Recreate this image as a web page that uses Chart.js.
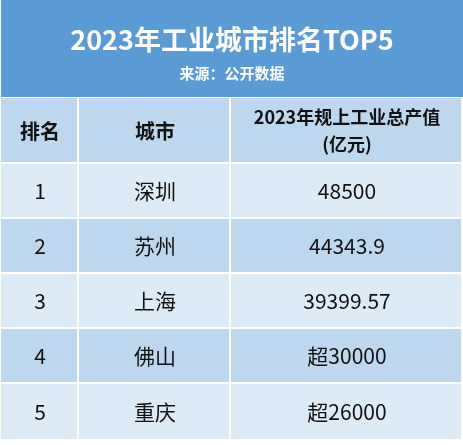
<!DOCTYPE html><html><head><meta charset="utf-8">
<script src="https://cdn.jsdelivr.net/npm/chart.js@4"></script>
<style>html,body{margin:0;padding:0;background:#fff}#w{width:463px;height:445px}</style></head><body><div id="w"><canvas id="c"></canvas></div>
<script>
const title = "2023年工业城市排名TOP5";
const subtitle = "来源：公开数据";
const headers = ["排名", "城市", "2023年规上工业总产值\n(亿元)"];
const ranks = ["1","2","3","4","5"];
const cities = ["深圳","苏州","上海","佛山","重庆"];
const values = ["48500","44343.9","39399.57","超30000","超26000"];

const F = '"Noto Sans CJK SC","Microsoft YaHei",sans-serif';
const tablePlugin = {
  id:'table',
  afterDraw(chart){
    const c = chart.ctx, xs = chart.scales.x, ys = chart.scales.y;
    const X = v=>xs.getPixelForValue(v), Y = v=>ys.getPixelForValue(v);
    const colB = [1, 79, 231, 463];
    const rowB = [98, 164, 219, 274, 329, 384, 441];
    c.save();
    c.fillStyle = '#5B9BD5'; c.fillRect(X(1), Y(0), X(463)-X(1), Y(97)-Y(0));
    c.fillStyle = '#fff'; c.textAlign='center'; c.textBaseline='middle';
    c.font = 'bold 27px '+F; c.fillText(title, X(232), Y(40));
    c.font = 'bold 15px '+F; c.fillText(subtitle, X(232), Y(73));
    const rows = [headers].concat(ranks.map((r,i)=>[r, cities[i], values[i]]));
    rows.forEach((row,ri)=>{
      const y0 = Y(rowB[ri]), y1 = Y(rowB[ri+1]);
      row.forEach((txt,ci)=>{
        const x0 = X(colB[ci]), x1 = X(colB[ci+1]);
        c.fillStyle = (ri===0 || ri%2===0) ? '#BDD7EE' : '#DDEBF7';
        c.fillRect(x0, y0, x1-x0-2, y1-y0-2);
        c.fillStyle = '#111';
        const cx = (x0+x1)/2, cy = (y0+y1)/2;
        const lines = txt.split('\n');
        c.font = (ri===0 ? (lines.length>1?'bold 18px ':'bold 20px ') : '21px ') + F;
        lines.forEach((l,li)=> c.fillText(l, cx, cy + (li-(lines.length-1)/2)*27));
      });
    });
    c.restore();
  }
};
new Chart(document.getElementById('c'), {
  type:'scatter', data:{datasets:[{data:[]}]},
  options:{responsive:true, maintainAspectRatio:false, animation:false,
    layout:{padding:0},
    plugins:{legend:{display:false}, tooltip:{enabled:false}},
    scales:{x:{type:'linear',min:0,max:463,display:false}, y:{type:'linear',min:0,max:445,reverse:true,display:false}}},
  plugins:[tablePlugin]
});
</script></body></html>
